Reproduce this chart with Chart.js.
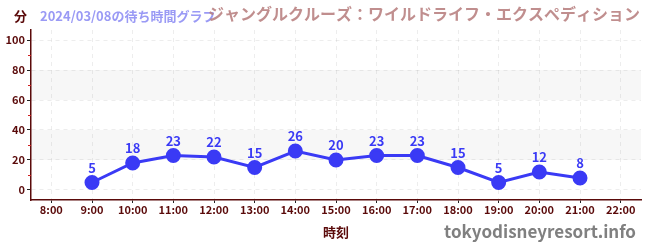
<!DOCTYPE html>
<html>
<head>
<meta charset="utf-8">
<script src="https://cdn.jsdelivr.net/npm/chart.js@4"></script>
<style>
  html, body { margin: 0; padding: 0; background: #fff; }
  #wrap { width: 650px; height: 250px; }
</style>
</head>
<body>
<div id="wrap"><canvas id="waitChart" width="650" height="250"></canvas></div>
<script>
// Datos del grafico
const horas = ['8:00', '9:00', '10:00', '11:00', '12:00', '13:00', '14:00', '15:00', '16:00', '17:00', '18:00', '19:00', '20:00', '21:00', '22:00'];
const esperas = [null, 5, 18, 23, 22, 15, 26, 20, 23, 23, 15, 5, 12, 8, null];
const ticksY = [0, 20, 40, 60, 80, 100];
const bandas = [[20, 40], [60, 80]];

const fuente = '"Noto Sans CJK JP", "Noto Sans", sans-serif';
const azul = '#3a3af5';
const granate = '#5a0a0a';

// Plugin para bandas, textos y etiquetas
const extras = {
  id: 'extras',
  beforeDatasetsDraw(chart) {
    const { ctx, chartArea, scales } = chart;
    ctx.save();
    ctx.fillStyle = 'rgba(0,0,0,0.03)';
    bandas.forEach(b => {
      const y1 = scales.y.getPixelForValue(b[1]);
      const y0 = scales.y.getPixelForValue(b[0]);
      ctx.fillRect(chartArea.left, y1, chartArea.right - chartArea.left, y0 - y1);
    });
    // ticks menores rojos
    ctx.strokeStyle = '#d02020';
    ctx.lineWidth = 1;
    [10, 30, 50, 70, 90].forEach(v => {
      const y = Math.round(scales.y.getPixelForValue(v)) + 0.5;
      ctx.beginPath();
      ctx.moveTo(chartArea.left - 3, y);
      ctx.lineTo(chartArea.left, y);
      ctx.stroke();
    });
    ctx.restore();
  },
  afterDatasetsDraw(chart) {
    const { ctx } = chart;
    const meta = chart.getDatasetMeta(0);
    ctx.save();
    ctx.fillStyle = azul;
    ctx.font = 'bold 13px ' + fuente;
    ctx.textAlign = 'center';
    ctx.textBaseline = 'bottom';
    meta.data.forEach((p, i) => {
      if (esperas[i] === null) return;
      ctx.fillText(String(esperas[i]), p.x, p.y - 8);
    });
    ctx.restore();
  },
  afterDraw(chart) {
    const { ctx } = chart;
    ctx.save();
    ctx.textBaseline = 'middle';
    ctx.fillStyle = granate;
    ctx.font = 'bold 13px ' + fuente;
    ctx.textAlign = 'left';
    ctx.fillText('分', 14, 16);
    ctx.fillStyle = '#9a9af5';
    ctx.font = 'bold 13px ' + fuente;
    ctx.fillText('2024/03/08の待ち時間グラフ', 40, 16);
    ctx.fillStyle = 'rgba(185,130,130,0.9)';
    ctx.font = 'bold 16px ' + fuente;
    ctx.textAlign = 'right';
    ctx.fillText('ジャングルクルーズ：ワイルドライフ・エクスペディション', 640, 14);
    ctx.fillStyle = '#808080';
    ctx.font = 'bold 17px ' + fuente;
    ctx.fillText('tokyodisneyresort.info', 636, 232);
    ctx.restore();
  }
};

const ctx = document.getElementById('waitChart');

new Chart(ctx, {
  type: 'line',
  data: {
    labels: horas,
    datasets: [{
      data: esperas,
      borderColor: azul,
      backgroundColor: azul,
      borderWidth: 3,
      pointRadius: 6,
      pointHoverRadius: 6,
      spanGaps: false,
      tension: 0
    }]
  },
  options: {
    responsive: false,
    animation: false,
    layout: { padding: { top: 30, right: 9, left: 0, bottom: 0 } },
    plugins: { legend: { display: false }, tooltip: { enabled: false } },
    scales: {
      x: {
        offset: true,
        afterFit(s) { s.height = 50; },
        grid: {
          color: 'rgba(0,0,0,0.07)',
          tickColor: '#222',
          tickLength: 3,
          offset: false
        },
        border: { color: granate, width: 1.5, dash: [4, 4] },
        ticks: {
          color: granate,
          font: { family: fuente, size: 11, weight: 'bold' },
          padding: 0,
          maxRotation: 0,
          autoSkip: false
        },
        title: {
          display: true,
          text: '時刻',
          color: granate,
          font: { family: fuente, size: 13, weight: 'bold' },
          padding: { top: 2, bottom: 10 }
        }
      },
      y: {
        min: -6.67,
        max: 106.67,
        afterFit(s) { s.width = 31; },
        afterBuildTicks(s) { s.ticks = ticksY.map(v => ({ value: v })); },
        grid: {
          color: 'rgba(0,0,0,0.07)',
          tickColor: '#222',
          tickLength: 4
        },
        border: { color: granate, width: 1.5, dash: [4, 4] },
        ticks: {
          color: granate,
          font: { family: fuente, size: 11, weight: 'bold' },
          padding: 2
        }
      }
    }
  },
  plugins: [extras]
});
</script>
</body>
</html>
